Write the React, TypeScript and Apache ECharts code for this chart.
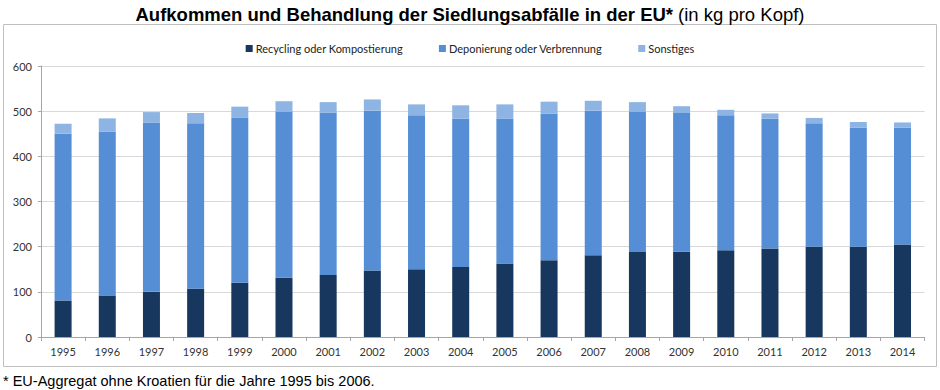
import React, { useEffect, useRef } from "react";
import * as echarts from "echarts";

const years = ["1995","1996","1997","1998","1999","2000","2001","2002","2003","2004","2005","2006","2007","2008","2009","2010","2011","2012","2013","2014"];
const recycling = [81, 92, 100, 107, 120, 131, 137, 147, 150, 155, 163, 170, 181, 188, 189, 192, 196, 200, 200, 205];
const deponierung = [369, 363, 374, 366, 365, 368, 360, 354, 341, 329, 320, 325, 320, 311, 307, 299, 288, 273, 264, 259];
const sonstiges = [22, 29, 24, 23, 25, 23, 23, 25, 24, 29, 32, 26, 22, 21, 15, 12, 11, 12, 12, 11];
const seriesNames = ["Recycling oder Kompostierung", "Deponierung oder Verbrennung", "Sonstiges"];
const colors = ["#17375e", "#558ed5", "#8eb4e3"];

export default function App() {
  const ref = useRef<HTMLDivElement>(null);
  useEffect(() => {
    const chart = echarts.init(ref.current!, null, { renderer: "svg" });
    const mk = (name: string, data: number[], color: string) => ({
      name,
      type: "bar",
      stack: "total",
      data,
      barWidth: 17,
      itemStyle: { color },
    });
    chart.setOption({
      animation: false,
      backgroundColor: "#ffffff",
      title: {
        left: "center",
        top: 0,
        text: "{b|Aufkommen und Behandlung der Siedlungsabfälle in der EU*} {n|(in kg pro Kopf)}",
        textStyle: {
          rich: {
            b: { fontFamily: "Liberation Sans", fontWeight: "bold", fontSize: 18.5, color: "#000" },
            n: { fontFamily: "Liberation Sans", fontWeight: "normal", fontSize: 18.5, color: "#000" },
          },
        },
      },
      graphic: [
        {
          type: "rect",
          shape: { x: 3.5, y: 24.5, width: 933, height: 342 },
          style: { fill: "none", stroke: "#bfbfbf", lineWidth: 1 },
          silent: true,
          z: -1,
        },
        {
          type: "text",
          left: 3,
          top: 373,
          style: {
            text: "* EU-Aggregat ohne Kroatien für die Jahre 1995 bis 2006.",
            fontFamily: "Liberation Sans",
            fontSize: 14.5,
            fill: "#000",
          },
        },
      ],
      legend: {
        top: 38,
        left: "center",
        itemWidth: 7,
        itemHeight: 7,
        itemGap: 36,
        icon: "rect",
        textStyle: { fontFamily: "Lato", fontSize: 11, color: "#222", padding: [0, 0, 0, -2] },
        data: seriesNames,
      },
      grid: { left: 41, right: 15.4, top: 66, bottom: 53, containLabel: false },
      xAxis: {
        type: "category",
        data: years,
        axisLine: { lineStyle: { color: "#a6a6a6" } },
        axisTick: { show: true, alignWithLabel: false, length: 4, lineStyle: { color: "#a6a6a6" } },
        axisLabel: { fontFamily: "Lato", fontSize: 11, color: "#333", margin: 9 },
      },
      yAxis: {
        type: "value",
        min: 0,
        max: 600,
        interval: 100,
        axisLine: { show: true, lineStyle: { color: "#a6a6a6" } },
        axisTick: { show: true, length: 3, lineStyle: { color: "#a6a6a6" } },
        splitLine: { lineStyle: { color: "#d9d9d9" } },
        axisLabel: { fontFamily: "Lato", fontSize: 11, color: "#333", margin: 9 },
      },
      series: [
        mk(seriesNames[0], recycling, colors[0]),
        mk(seriesNames[1], deponierung, colors[1]),
        mk(seriesNames[2], sonstiges, colors[2]),
      ],
    });
    return () => chart.dispose();
  }, []);
  return (
    <div
      ref={ref}
      style={{ position: "fixed", left: 0, top: 0, width: 940, height: 390 }}
    />
  );
}
